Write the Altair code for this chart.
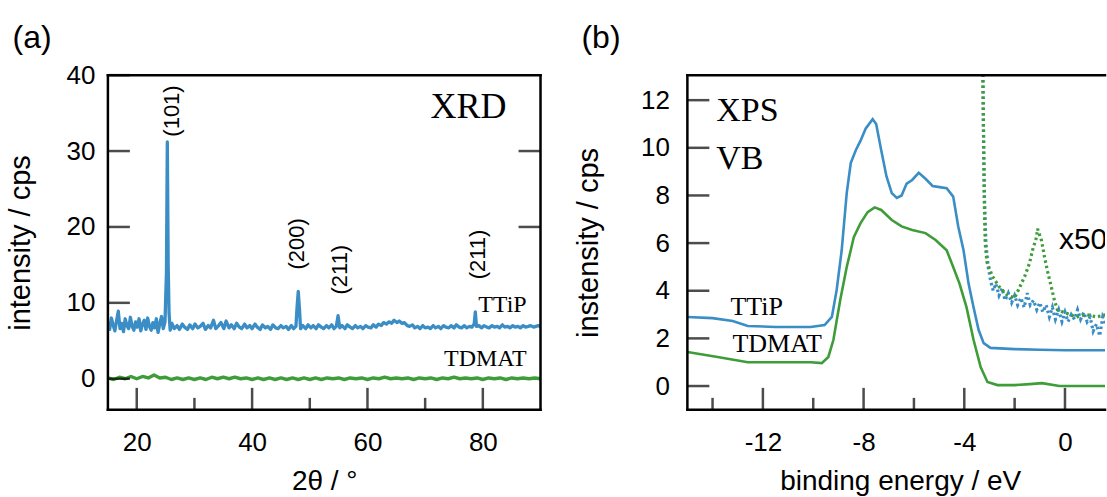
import altair as alt
import pandas as pd

# ---------------- data ----------------
# (a) XRD, TTiP film
xrd_tth_ttip = [15.0, 15.3, 15.6, 15.9, 16.2, 16.5, 16.8, 17.1, 17.4, 17.7, 18.0, 18.3, 18.6, 18.9, 19.2, 19.5,
                19.8, 20.1, 20.4, 20.7, 21.0, 21.3, 21.6, 21.9, 22.2, 22.5, 22.8, 23.1, 23.4, 23.7, 24.0, 24.3,
                24.6, 24.9, 25.15, 25.3, 25.45, 25.6, 25.8, 26.1, 26.5, 27.0, 27.4, 27.9, 28.3, 28.8, 29.2, 29.7,
                30.1, 30.6, 31.0, 31.5, 31.9, 32.4, 32.8, 33.3, 33.7, 34.2, 34.6, 35.1, 35.5, 36.0, 36.4, 36.9,
                37.3, 37.8, 38.2, 38.7, 39.1, 39.6, 40.0, 40.5, 40.9, 41.4, 41.8, 42.3, 42.7, 43.2, 43.6, 44.1,
                44.5, 45.0, 45.4, 45.9, 46.3, 46.8, 47.2, 47.6, 47.8, 48.0, 48.2, 48.4, 48.8, 49.3, 49.7, 50.2,
                50.6, 51.1, 51.5, 52.0, 52.4, 52.9, 53.3, 53.8, 54.2, 54.6, 54.9, 55.2, 55.6, 56.1, 56.5, 57.0,
                57.4, 57.9, 58.3, 58.8, 59.2, 59.7, 60.1, 60.6, 61.0, 61.5, 61.9, 62.4, 62.8, 63.3, 63.7, 64.2,
                64.6, 65.1, 65.5, 66.0, 66.4, 66.9, 67.3, 67.8, 68.2, 68.7, 69.1, 69.6, 70.0, 70.5, 70.9, 71.4,
                71.8, 72.3, 72.7, 73.2, 73.6, 74.1, 74.5, 75.0, 75.4, 75.9, 76.3, 76.8, 77.2, 77.7, 78.1, 78.5,
                78.7, 78.9, 79.3, 79.8, 80.2, 80.7, 81.1, 81.6, 82.0, 82.5, 82.9, 83.4, 83.8, 84.3, 84.7, 85.2,
                85.6, 86.1, 86.5, 87.0, 87.4, 87.9, 88.3, 88.8, 89.2, 89.6, 90.0]
xrd_ttip = [7.4, 6.5, 8.0, 7.1, 6.3, 7.6, 8.9, 6.6, 7.3, 6.2, 7.9, 7.0, 6.6, 8.1, 6.9, 6.4,
            7.5, 6.8, 7.9, 6.3, 7.2, 7.7, 6.5, 8.0, 6.9, 6.4, 7.4, 6.7, 7.9, 6.1, 7.3, 8.2,
            6.6, 7.5, 14.0, 31.2, 15.0, 8.6, 6.4, 7.3, 6.6, 7.0, 6.5, 7.2, 6.8, 6.5, 7.1, 6.6,
            7.2, 6.7, 6.9, 7.3, 6.5, 7.0, 6.7, 7.7, 6.6, 7.0, 7.4, 6.6, 7.6, 6.7, 7.1, 6.6,
            7.3, 6.8, 6.6, 7.2, 6.7, 7.0, 6.6, 7.2, 6.8, 6.5, 7.1, 6.7, 6.9, 6.5, 7.1, 6.7,
            6.6, 7.0, 6.7, 6.9, 6.5, 7.0, 6.6, 6.9, 9.5, 11.5, 9.3, 6.6, 7.0, 6.6, 7.1, 6.7,
            7.0, 6.6, 7.1, 6.8, 6.6, 7.0, 6.7, 7.1, 6.6, 6.9, 8.3, 6.7, 7.0, 6.6, 7.1, 6.8,
            6.6, 7.0, 6.7, 6.9, 6.6, 7.0, 6.8, 6.7, 7.1, 6.8, 7.2, 7.0, 7.4, 7.2, 7.5, 7.3,
            7.7, 7.4, 7.6, 7.3, 7.4, 7.0, 6.9, 7.1, 6.7, 6.9, 6.6, 7.0, 6.7, 6.8, 6.6, 7.0,
            6.7, 6.9, 6.6, 7.0, 6.8, 6.7, 7.0, 6.7, 7.1, 6.8, 6.7, 7.0, 6.7, 6.9, 6.8, 7.2,
            8.8, 6.9, 7.0, 6.7, 7.0, 6.8, 6.7, 7.0, 6.8, 6.9, 6.7, 7.1, 6.8, 6.9, 6.7, 7.0,
            6.8, 6.9, 6.7, 7.0, 6.8, 6.9, 7.0, 6.8, 6.9, 7.0, 6.9]
# (a) XRD, TDMAT film
xrd_tth_tdmat = [15, 16, 17, 18, 19, 20, 21, 22, 23, 24, 25, 26, 27, 28, 29, 30, 31, 32, 33, 34, 35, 36, 37, 38,
                 39, 40, 41, 42, 43, 44, 45, 46, 47, 48, 49, 50, 51, 52, 53, 54, 55, 56, 57, 58, 59, 60, 61, 62,
                 63, 64, 65, 66, 67, 68, 69, 70, 71, 72, 73, 74, 75, 76, 77, 78, 79, 80, 81, 82, 83, 84, 85, 86,
                 87, 88, 89, 90]
xrd_tdmat = [0.1, -0.1, 0.2, 0.0, 0.3, 0.0, 0.3, 0.1, 0.5, 0.1, 0.2, -0.1, 0.1, -0.1, 0.1, -0.1, 0.1, -0.1,
             0.2, 0.0, 0.2, 0.0, 0.2, 0.0, 0.1, -0.1, 0.1, -0.1, 0.1, -0.1, 0.1, -0.1, 0.1, -0.1, 0.1, -0.1,
             0.1, -0.1, 0.1, 0.0, 0.1, -0.1, 0.1, 0.0, 0.1, -0.1, 0.1, 0.0, 0.2, 0.0, 0.1, 0.0, 0.1, -0.1,
             0.1, 0.0, 0.1, -0.1, 0.1, 0.0, 0.2, 0.0, 0.1, 0.0, 0.1, -0.1, 0.1, 0.0, 0.1, -0.1, 0.1, 0.0,
             0.1, 0.0, 0.1, 0.0]
peak_labels = ["(101)", "(200)", "(211)", "(211)"]
peak_tth = [26.1, 47.7, 55.2, 79.2]
peak_label_base = [31.9, 14.4, 11.1, 13.1]

# (b) XPS valence band
be_ttip = [-15.0, -14.0, -13.2, -12.6, -11.5, -10.1, -9.55, -9.26, -9.07, -8.87, -8.67, -8.51, -8.31, -8.12,
           -7.92, -7.64, -7.5, -7.3, -7.09, -6.88, -6.68, -6.49, -6.29, -6.07, -5.81, -5.54, -5.26, -4.98,
           -4.7, -4.44, -4.24, -4.03, -3.83, -3.63, -3.43, -3.23, -2.96, -2.0, -1.0, 0.0, 1.0, 2.0]
vb_ttip = [2.9, 2.85, 2.73, 2.52, 2.48, 2.48, 2.56, 2.9, 4.03, 5.7, 8.1, 9.36, 9.9, 10.3,
           10.8, 11.2, 11.0, 9.9, 8.8, 8.1, 7.9, 8.0, 8.5, 8.65, 8.95, 8.7, 8.4, 8.35,
           8.3, 7.95, 6.7, 5.7, 4.3, 3.3, 2.35, 1.8, 1.6, 1.55, 1.52, 1.5, 1.5, 1.5]
be_tdmat = [-15.0, -13.8, -12.6, -11.5, -10.1, -9.66, -9.4, -9.2, -8.93, -8.67, -8.51, -8.39, -8.12, -7.84,
            -7.56, -7.3, -6.88, -6.49, -6.07, -5.54, -5.14, -4.7, -4.44, -4.19, -3.91, -3.63, -3.35, -3.08,
            -2.68, -2.0, -1.4, -0.91, -0.22, 1.0, 2.0]
vb_tdmat = [1.43, 1.22, 1.0, 1.0, 1.0, 0.96, 1.22, 1.93, 3.6, 5.0, 5.7, 6.25, 6.84, 7.3,
            7.5, 7.39, 6.97, 6.7, 6.55, 6.42, 6.13, 5.7, 5.0, 4.3, 3.3, 1.93, 0.8, 0.17,
            0.04, 0.04, 0.08, 0.12, 0.0, 0.0, 0.0]
# x50 magnified curves near the valence-band edge
be_x50_ttip = [-3.27, -3.24, -3.2, -3.14, -3.05, -2.95, -2.85, -2.75, -2.62, -2.5, -2.38, -2.25, -2.12, -2.0,
               -1.88, -1.75, -1.62, -1.5, -1.38, -1.25, -1.12, -1.0, -0.88, -0.75, -0.62, -0.5, -0.38, -0.25,
               -0.12, 0.0, 0.12, 0.25, 0.38, 0.5, 0.62, 0.75, 0.88, 1.0, 1.12, 1.25, 1.38, 1.5, 1.62, 1.75, 1.9]
x50_ttip = [14.0, 11.0, 8.0, 6.0, 5.0, 4.4, 4.0, 4.3, 3.8, 4.1, 3.6, 3.9, 3.5, 3.8,
            3.4, 3.7, 3.3, 3.9, 3.4, 3.6, 3.2, 3.5, 3.1, 3.4, 2.9, 3.3, 2.8, 3.2,
            2.7, 3.1, 2.7, 3.0, 2.8, 3.2, 2.8, 3.1, 2.7, 2.9, 2.3, 2.6, 2.1, 2.9, 2.6, 3.0, 2.7]
be_x50_tdmat = [-3.27, -3.24, -3.21, -3.17, -3.1, -2.88, -2.6, -2.28, -2.0, -1.8, -1.6, -1.41, -1.29,
                -1.13, -1.09, -0.93, -0.81, -0.69, -0.54, -0.42, -0.3, 0.06, 0.46, 0.85, 1.25, 1.65, 2.0]
x50_tdmat = [14.0, 11.0, 8.0, 6.0, 5.2, 4.6, 4.15, 3.8, 3.7, 4.15, 4.6, 5.15, 5.7,
             6.25, 6.6, 6.1, 5.4, 4.8, 4.15, 3.6, 3.2, 3.05, 2.9, 3.0, 2.9, 3.0, 2.9]

# axis ticks / labels
xa_major = [20, 40, 60, 80]
xa_minor = [30, 50, 70]
ya_ticks = [0, 10, 20, 30, 40]
ya_right = [20, 30]
xb_major = [-12, -8, -4, 0]
xb_minor = [-14, -10, -6, -2]
yb_ticks = [0, 2, 4, 6, 8, 10, 12]

# ---------------- styling ----------------
BLUE = "#3a8dc5"
GREEN = "#3e9c39"
SANS = "Liberation Sans"
SERIF = "Liberation Serif"
WA, WB, H = 433, 418, 335
LW = 2.5
MAJ, MIN = 22, 12

xa = alt.Scale(domain=[15, 90], nice=False, zero=False)
ya = alt.Scale(domain=[-4.1, 40], nice=False, zero=False)
xb = alt.Scale(domain=[-15, 1.59], nice=False, zero=False)
yb = alt.Scale(domain=[-1.0, 13.05], nice=False, zero=False)


def axis_common(**kw):
    base = dict(ticks=False, tickSize=0, domain=False, grid=False,
                labelFont=SANS, labelFontSize=26, labelColor="black",
                titleFont=SANS, titleFontWeight="normal", titleColor="black",
                labelFlush=False, labelExpr="'' + datum.value")
    base.update(kw)
    return alt.Axis(**base)


AX_XA = axis_common(values=xa_major, title="2θ / °", labelPadding=20,
                    titleFontSize=28, titleY=58, titleBaseline="top")
AX_YA = axis_common(values=ya_ticks, title="intensity / cps", labelPadding=13,
                    titleFontSize=29, titleX=-72, titleY=H / 2, titleAngle=270,
                    titleBaseline="bottom", titleAlign="center")
AX_XB = axis_common(values=xb_major, title="binding energy / eV", labelPadding=20,
                    titleFontSize=28, titleY=58, titleX=213, titleBaseline="top")
AX_YB = axis_common(values=yb_ticks, title="instensity / cps", labelPadding=18,
                    titleFontSize=29, titleX=-84, titleY=H / 2, titleAngle=270,
                    titleBaseline="bottom", titleAlign="center")

one = alt.Data(values=[{"k": 0}])


def frame(width, right=True):
    def r():
        return alt.Chart(one).mark_rule(color="black", strokeWidth=LW, strokeCap="square")
    parts = [
        r().encode(x=alt.value(0), x2=alt.value(width), y=alt.value(0)),
        r().encode(x=alt.value(0), x2=alt.value(width), y=alt.value(H)),
        r().encode(x=alt.value(0), y=alt.value(0), y2=alt.value(H)),
    ]
    if right:
        parts.append(r().encode(x=alt.value(width), y=alt.value(0), y2=alt.value(H)))
    return parts


def XA(f):
    return alt.X(f, scale=xa, axis=AX_XA)


def YA(f):
    return alt.Y(f, scale=ya, axis=AX_YA)


def XB(f):
    return alt.X(f, scale=xb, axis=AX_XB)


def YB(f):
    return alt.Y(f, scale=yb, axis=AX_YB)


def xticks(vals, X, length):
    # inward ticks standing on the bottom frame (tick centre = H - length/2)
    return alt.Chart(pd.DataFrame({"t": vals})).mark_tick(
        color="black", thickness=LW, size=length, orient="vertical").encode(
        x=X("t:Q"), y=alt.value(H - length / 2))


def yticks(vals, Y, xpos):
    return alt.Chart(pd.DataFrame({"v": vals})).mark_tick(
        color="black", thickness=LW, size=MAJ, orient="horizontal").encode(
        y=Y("v:Q"), x=alt.value(xpos))


# ---------------- panel (a) ----------------
a_ttip = alt.Chart(pd.DataFrame({"x": xrd_tth_ttip, "y": xrd_ttip})).mark_line(
    color=BLUE, strokeWidth=3.3, clip=True, strokeJoin="round").encode(x=XA("x:Q"), y=YA("y:Q"))
a_tdmat = alt.Chart(pd.DataFrame({"x": xrd_tth_tdmat, "y": xrd_tdmat})).mark_line(
    color=GREEN, strokeWidth=3.4, clip=True, strokeJoin="round").encode(x=XA("x:Q"), y=YA("y:Q"))
a_peaks = alt.Chart(pd.DataFrame({"x": peak_tth, "y": peak_label_base, "t": peak_labels})).mark_text(
    font=SANS, fontSize=22, angle=270, align="left", baseline="middle", color="black").encode(
    x=XA("x:Q"), y=YA("y:Q"), text="t:N")

a_notes = alt.Chart(pd.DataFrame({"x": [84.1, 87.6, 87.6], "y": [34.3, 8.74, 1.65],
                                  "t": ["XRD", "TTiP", "TDMAT"], "s": [36, 24, 24]})).mark_text(
    font=SERIF, align="right", baseline="alphabetic", color="black").encode(
    x=XA("x:Q"), y=YA("y:Q"), text="t:N", size=alt.Size("s:Q", scale=None, legend=None))
a_tag = alt.Chart(one).mark_text(font=SANS, fontSize=32, align="left", baseline="middle", color="black").encode(
    x=alt.value(-95.5), y=alt.value(-37), text=alt.value("(a)"))

panel_a = alt.layer(a_ttip, a_tdmat,
                    xticks(xa_major, XA, MAJ), xticks(xa_minor, XA, MIN),
                    yticks(ya_ticks, YA, MAJ / 2), yticks(ya_right, YA, WA - MAJ / 2),
                    a_peaks, a_notes, a_tag, *frame(WA)).properties(width=WA, height=H)

# ---------------- panel (b) ----------------
b_x50_ttip = alt.Chart(pd.DataFrame({"x": be_x50_ttip, "y": x50_ttip})).mark_line(
    color=BLUE, strokeWidth=3.2, strokeDash=[2.5, 3.0], clip=True).encode(x=XB("x:Q"), y=YB("y:Q"))
b_x50_tdmat = alt.Chart(pd.DataFrame({"x": be_x50_tdmat, "y": x50_tdmat})).mark_line(
    color=GREEN, strokeWidth=3.2, strokeDash=[2.5, 3.0], clip=True).encode(x=XB("x:Q"), y=YB("y:Q"))
b_ttip = alt.Chart(pd.DataFrame({"x": be_ttip, "y": vb_ttip})).mark_line(
    color=BLUE, strokeWidth=2.6, clip=True).encode(x=XB("x:Q"), y=YB("y:Q"))
b_tdmat = alt.Chart(pd.DataFrame({"x": be_tdmat, "y": vb_tdmat})).mark_line(
    color=GREEN, strokeWidth=2.6, clip=True).encode(x=XB("x:Q"), y=YB("y:Q"))

b_notes = alt.Chart(pd.DataFrame({"x": [-13.85, -13.85, -13.29, -13.21], "y": [11.12, 9.11, 2.97, 1.42],
                                  "t": ["XPS", "VB", "TTiP", "TDMAT"], "s": [34, 34, 26, 26]})).mark_text(
    font=SERIF, align="left", baseline="alphabetic", color="black").encode(
    x=XB("x:Q"), y=YB("y:Q"), text="t:N", size=alt.Size("s:Q", scale=None, legend=None))
b_x50 = alt.Chart(pd.DataFrame({"x": [-0.24], "y": [5.75], "t": ["x50"]})).mark_text(
    font=SANS, fontSize=30, align="left", baseline="alphabetic", color="black", clip=True).encode(
    x=XB("x:Q"), y=YB("y:Q"), text="t:N")
b_tag = alt.Chart(one).mark_text(font=SANS, fontSize=32, align="left", baseline="middle", color="black").encode(
    x=alt.value(-106), y=alt.value(-37), text=alt.value("(b)"))

panel_b = alt.layer(b_x50_ttip, b_x50_tdmat, b_ttip, b_tdmat,
                    xticks(xb_major, XB, MAJ), xticks(xb_minor, XB, MIN),
                    yticks(yb_ticks, YB, MAJ / 2),
                    b_notes, b_x50, b_tag, *frame(WB, right=False)).properties(width=WB, height=H)

chart = alt.hconcat(panel_a, panel_b, spacing=147, bounds="flush").properties(
    padding={"left": 7, "top": 22, "right": 0, "bottom": 0},
    background="white",
).configure_view(stroke=None)

chart.save("out.html", embed_options={"renderer": "svg", "actions": False})
